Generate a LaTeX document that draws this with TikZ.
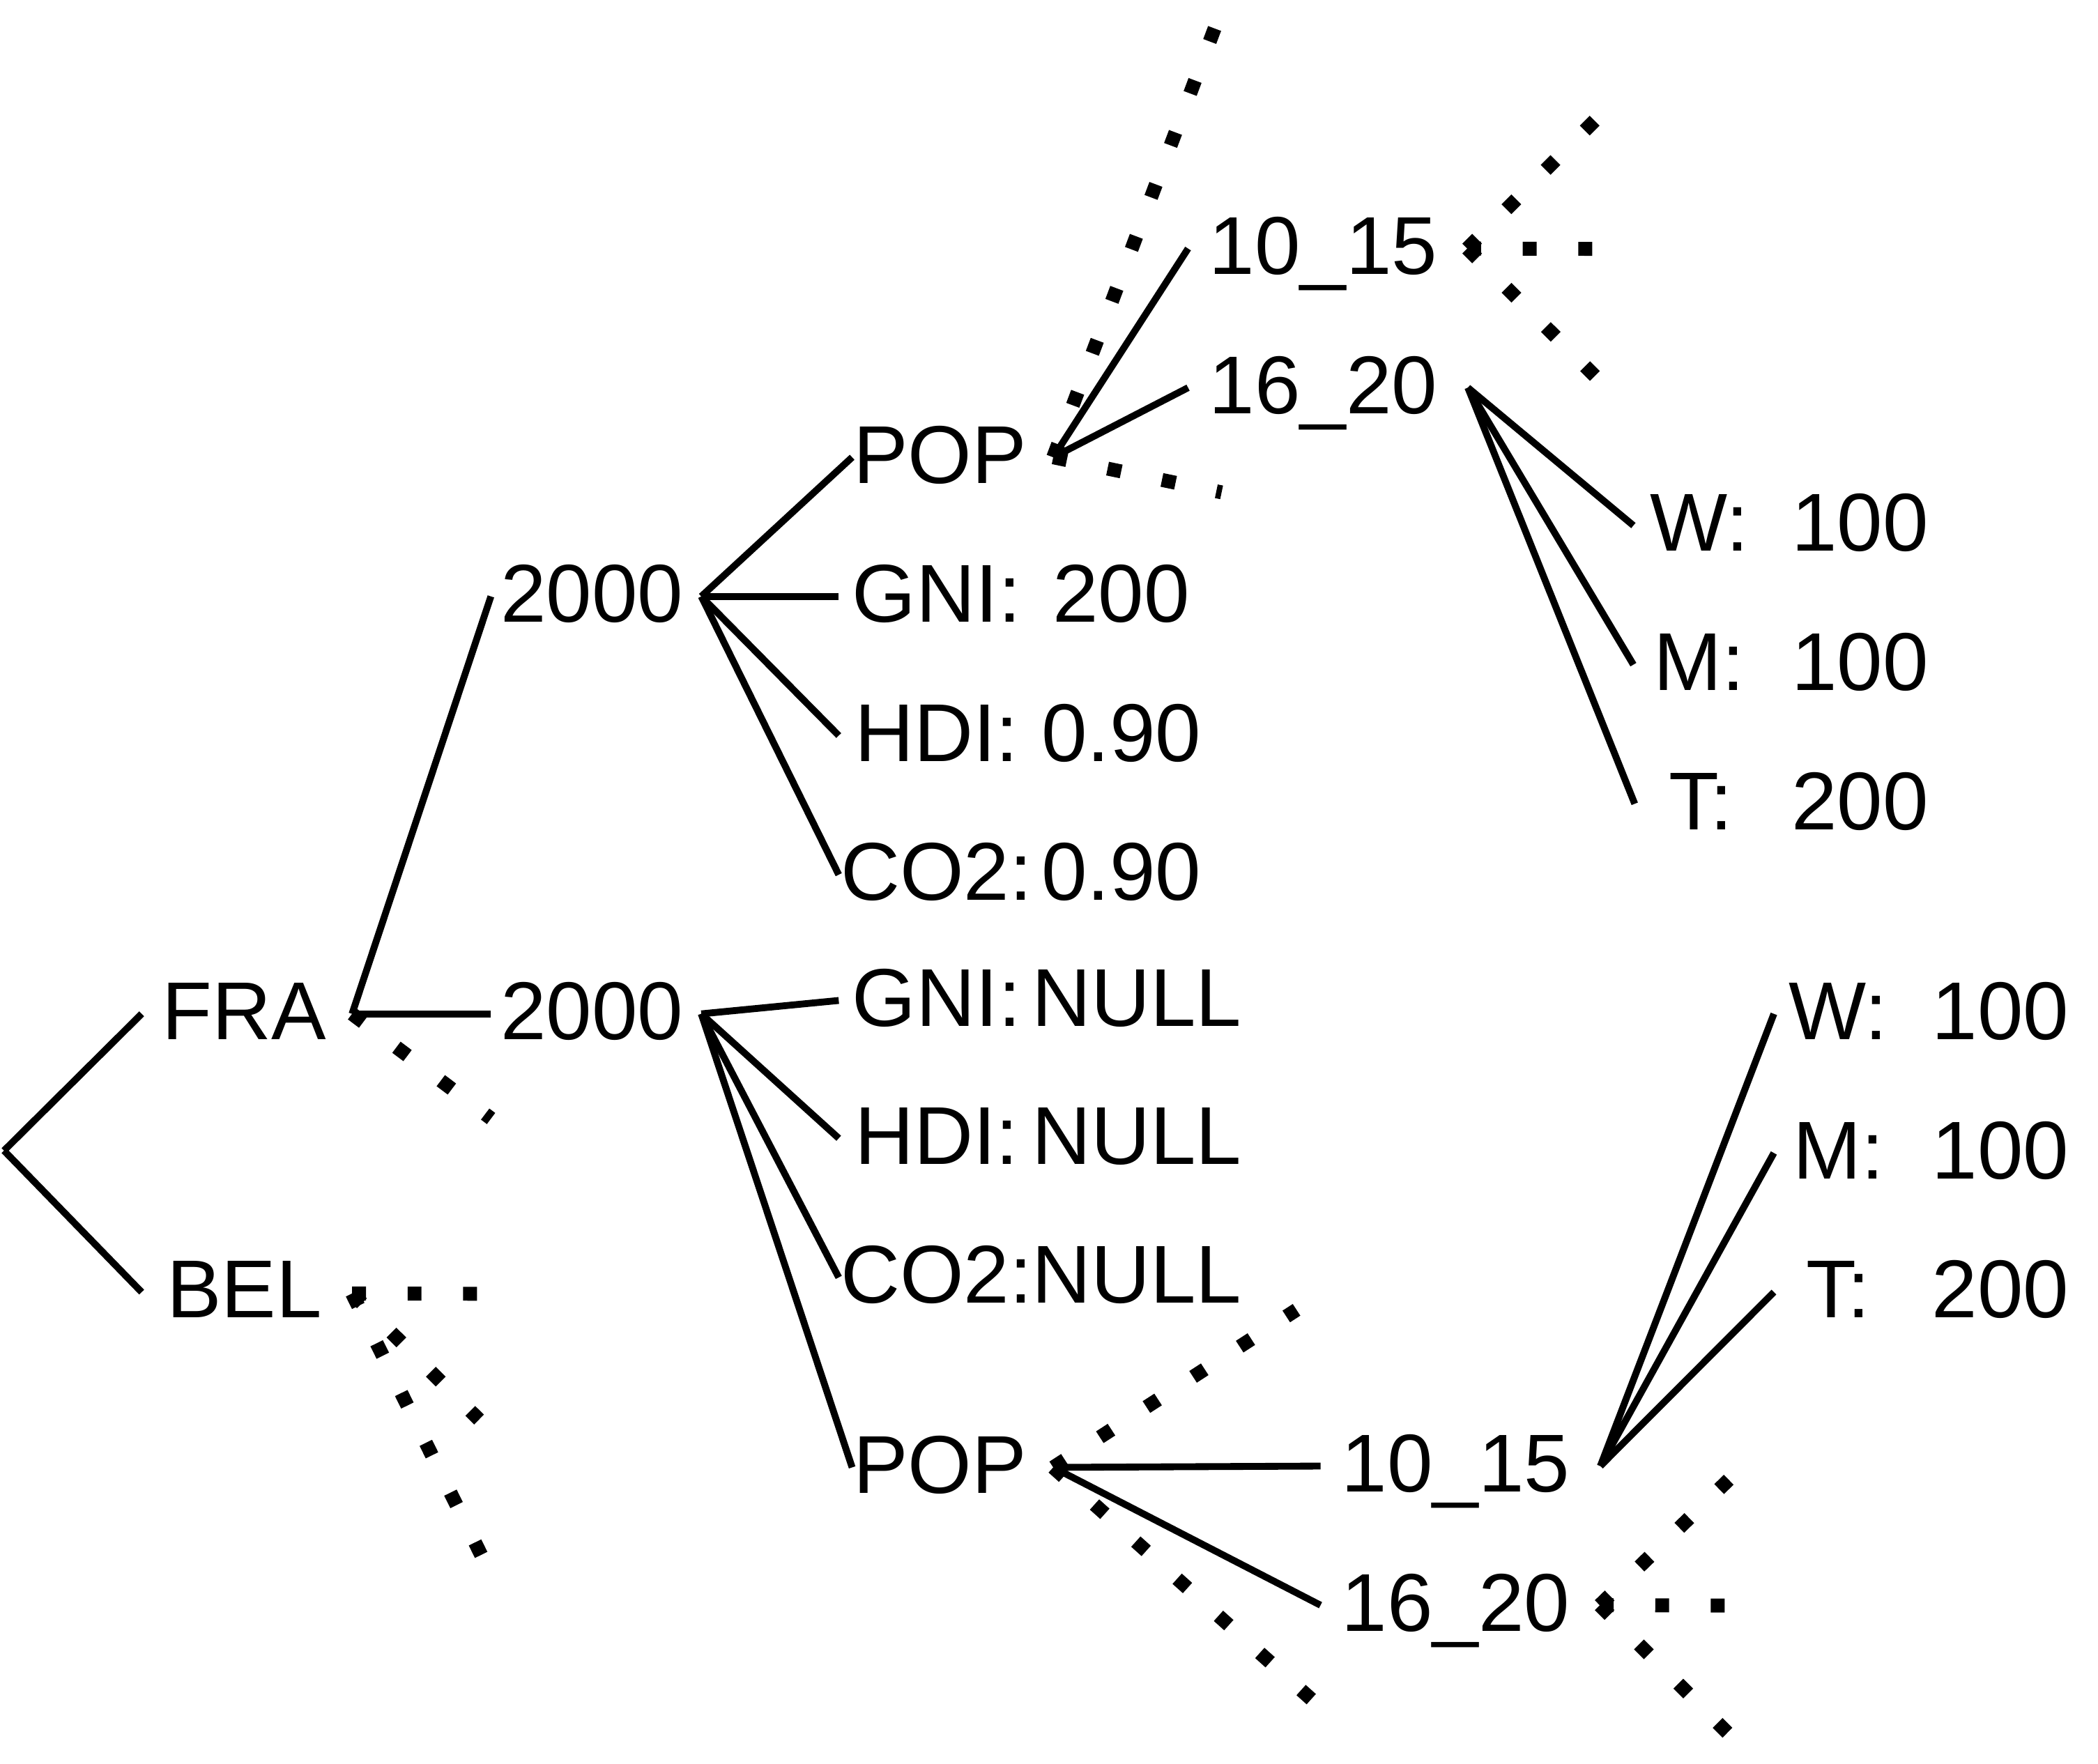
\documentclass[tikz,border=0pt]{standalone}
\usepackage{fontspec}
\setmainfont{Liberation Sans}
\usetikzlibrary{calc}
\newcommand\lblfont{\fontsize{33.5pt}{40pt}\selectfont}
\begin{document}
\begin{tikzpicture}[x=0.019196cm, y=-0.019196cm,
  lbl/.style={inner sep=0pt, text height=21pt, text depth=0pt, anchor=base, font=\lblfont},
  val/.style={lbl},
  wA/.style={minimum width=83.3pt},
  wB/.style={minimum width=82.2pt},
  wP/.style={minimum width=71.3pt},
  wL/.style={minimum width=79.5pt},
  wR/.style={minimum width=110pt},
  wS/.style={minimum width=53.4pt},
  wT/.style={minimum width=52.3pt},
  edge/.style={line width=2.8pt},
  dots/.style={line width=5.67pt, dash pattern=on 5.67pt off 17pt}]
\useasboundingbox (0,0) rectangle (1568,1318);

% nodes
\coordinate (root) at (3,860);
\node[lbl,wA] (fra) at (182.5,777) {FRA};
\node[lbl,wA] (bel) at (182.5,985) {BEL};
\node[lbl,wB] (ya) at (442.5,465) {2000};
\node[lbl,wB] (yb) at (442.5,777) {2000};
\node[lbl,wP] (popa) at (702.5,361) {POP};
\node[lbl,wL] (gnia) at (700,465) {GNI:};
\node[val] (gniav) at (838,465) {200};
\node[lbl,wL] (hdia) at (700,569) {HDI:};
\node[val] (hdiav) at (838,569) {0.90};
\node[lbl,wL] (co2a) at (700,673) {CO2:};
\node[val] (co2av) at (838,673) {0.90};
\node[lbl,wL] (gnib) at (700,767) {GNI:};
\node[val] (gnibv) at (849.5,767) {NULL};
\node[lbl,wL] (hdib) at (700,870) {HDI:};
\node[val] (hdibv) at (849.5,870) {NULL};
\node[lbl,wL] (co2b) at (700,974) {CO2:};
\node[val] (co2bv) at (849.5,974) {NULL};
\node[lbl,wP] (popb) at (702.5,1116) {POP};
\node[lbl,wR] (aa) at (989,205) {10\_15};
\node[lbl,wR] (ab) at (989,309) {16\_20};
\node[lbl,wS] (wa) at (1270,412) {W:};
\node[val] (wav) at (1390,412) {100};
\node[lbl,wS] (ma) at (1270,516) {M:};
\node[val] (mav) at (1390,516) {100};
\node[lbl,wS] (ta) at (1271,620) {T:};
\node[val] (tav) at (1390,620) {200};
\node[lbl,wR] (ba) at (1088,1115) {10\_15};
\node[lbl,wR] (bb) at (1088,1219) {16\_20};
\node[lbl,wT] (wb) at (1374,777) {W:};
\node[val] (wbv) at (1495,777) {100};
\node[lbl,wT] (mb) at (1374,881) {M:};
\node[val] (mbv) at (1495,881) {100};
\node[lbl,wT] (tb) at (1374,985) {T:};
\node[val] (tbv) at (1495,985) {200};

% ports
\coordinate (fraR) at ($(fra.east)+(4,0)$);
\coordinate (belR) at ($(bel.east)+(4,1)$);
\coordinate (yaR) at ($(ya.east)+(6,0)$);
\coordinate (ybR) at ($(yb.east)+(6,0)$);
\coordinate (popaR) at ($(popa.east)+(19,0)$);
\coordinate (popbR) at ($(popb.east)+(19,0)$);
\coordinate (aaR) at ($(aa.east)+(6.5,0)$);
\coordinate (abR) at ($(ab.east)+(7,0)$);
\coordinate (baR) at ($(ba.east)+(7,0)$);
\coordinate (bbR) at ($(bb.east)+(6.5,0)$);

% solid connectors
\draw[edge] (root) -- (fra.west);
\draw[edge] (root) -- (bel.west);
\draw[edge] (fraR) -- (ya.west);
\draw[edge] (fraR) -- (yb.west);
\foreach \t in {popa,gnia,hdia,co2a} \draw[edge] (yaR) -- (\t.west);
\foreach \t in {gnib,hdib,co2b,popb} \draw[edge] (ybR) -- (\t.west);
\foreach \t in {aa,ab} \draw[edge] (popaR) -- (\t.west);
\foreach \t in {wa,ma,ta} \draw[edge] (abR) -- (\t.west);
\foreach \t in {ba,bb} \draw[edge] (popbR) -- (\t.west);
\foreach \t in {wb,mb,tb} \draw[edge] (baR) -- (\t.west);

% dotted stubs
\coordinate (d1) at (367,836);
\coordinate (d2) at (357,967);
\coordinate (d3) at (358,1061);
\coordinate (d4) at (361,1165);
\coordinate (d5) at (909,18);
\coordinate (d6) at (913,368);
\coordinate (d7) at (1192,90);
\coordinate (d8) at (1191,186);
\coordinate (d9) at (1192,281);
\coordinate (d10) at (969,979);
\coordinate (d11) at (980,1270);
\coordinate (d12) at (1292,1106);
\coordinate (d13) at (1290,1200);
\coordinate (d14) at (1292,1296);
\draw[dots] (fraR) -- (d1);
\draw[dots] (belR) -- (d2);
\draw[dots] (belR) -- (d3);
\draw[dots] (belR) -- (d4);
\draw[dots] (popaR) -- (d5);
\draw[dots] (popaR) -- (d6);
\draw[dots] (aaR) -- (d7);
\draw[dots] (aaR) -- (d8);
\draw[dots] (aaR) -- (d9);
\draw[dots] (popbR) -- (d10);
\draw[dots] (popbR) -- (d11);
\draw[dots] (bbR) -- (d12);
\draw[dots] (bbR) -- (d13);
\draw[dots] (bbR) -- (d14);
\end{tikzpicture}
\end{document}
